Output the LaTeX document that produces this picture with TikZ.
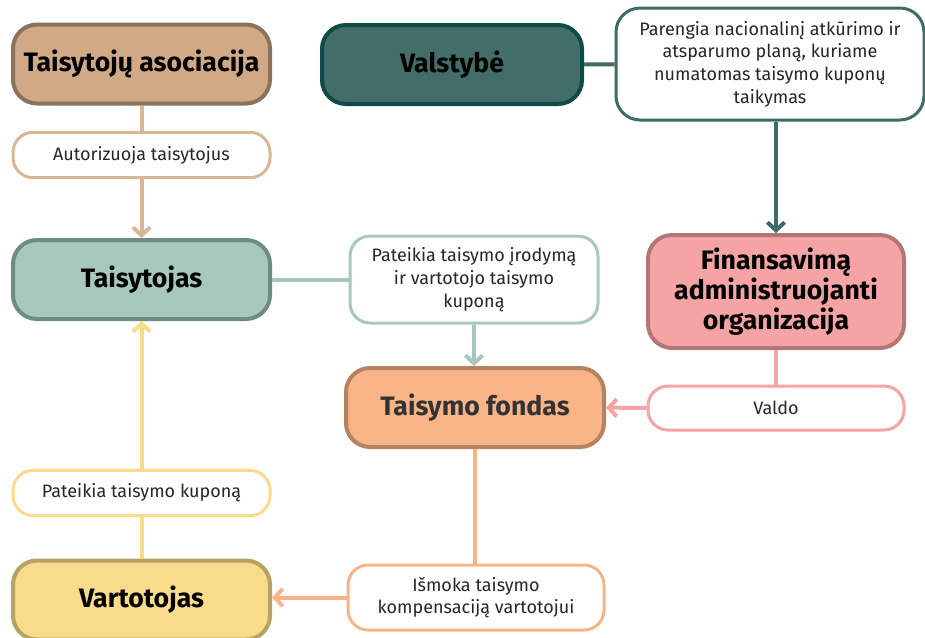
\documentclass[tikz,border=0pt]{standalone}
\usepackage{fontspec}
\setmainfont{Fira Sans}
\usetikzlibrary{arrows.meta,positioning}
\definecolor{tanfill}{HTML}{D0A987}
\definecolor{tanedge}{HTML}{8C7259}
\definecolor{tanline}{HTML}{D8B794}
\definecolor{greenfill}{HTML}{A7C9B9}
\definecolor{greenedge}{HTML}{6F8D7F}
\definecolor{tealfill}{HTML}{436D68}
\definecolor{tealedge}{HTML}{0F4B46}
\definecolor{tealline}{HTML}{3E6B66}
\definecolor{pinkfill}{HTML}{F5A3A4}
\definecolor{pinkedge}{HTML}{B27677}
\definecolor{orangefill}{HTML}{F8B487}
\definecolor{orangeedge}{HTML}{B6825F}
\definecolor{yellowfill}{HTML}{F8DC8B}
\definecolor{yellowedge}{HTML}{B8A263}
\tikzset{
  mainbox/.style = {draw, line width=3pt, rounded corners=18pt, align=center, inner sep=2pt,
                    font=\bfseries\fontsize{20}{22.5}\selectfont,
                    minimum width=192.75pt, minimum height=59.25pt},
  notebox/.style = {draw, fill=white, line width=2.25pt, rounded corners=15pt, align=center, inner sep=2pt,
                    font=\fontsize{13.5}{17}\selectfont, text=black!85,
                    minimum width=192.75pt, minimum height=34pt},
  link/.style    = {line width=3pt},
  arrow/.style   = {link, -{Straight Barb[length=6pt, width=13pt]}},
}

\begin{document}
\begin{tikzpicture}[x=0.75pt, y=-0.75pt]
    \useasboundingbox (0,0) rectangle (925,637);

    % Actors
    \node[mainbox, fill=tanfill, draw=tanedge] (asoc) at (141.5,64) {Taisytojų asociacija};
    \node[mainbox, fill=greenfill, draw=greenedge] (taisytojas) at (141.5,279.5) {Taisytojas};
    \node[mainbox, fill=yellowfill, draw=yellowedge] (vartotojas) at (141.5,600) {Vartotojas};
    \node[mainbox, fill=tealfill, draw=tealedge, minimum width=195pt] (valst) at (452,64.5) {Valstybė};
    \node[mainbox, fill=pinkfill, draw=pinkedge, minimum width=192pt, minimum height=84.75pt] (finans) at (776,291.5)
        {Finansavimą\\administruojanti\\organizacija};
    \node[mainbox, fill=orangefill, draw=orangeedge, text=black!80, minimum width=193.5pt] (fondas) at (475,407.5) {Taisymo fondas};

    % Actions
    \node[notebox, draw=tanline, below=19pt of asoc] (autor) {Autorizuoja taisytojus};
    \node[notebox, draw=tealline, minimum width=231pt, minimum height=84pt, rounded corners=18pt] (plan) at (770,64)
        {Parengia nacionalinį atkūrimo ir\\atsparumo planą, kuriame\\numatomas taisymo kuponų\\taikymas};
    \node[notebox, draw=greenfill, minimum width=186pt, minimum height=65.25pt] (irodym) at (474,279.5)
        {Pateikia taisymo įrodymą\\ir vartotojo taisymo\\kuponą};
    \node[notebox, draw=pinkfill, minimum width=192pt, minimum height=33pt] (valdo) at (776,408) {Valdo};
    \node[notebox, draw=orangefill, minimum width=192pt, minimum height=48.75pt] (ismoka) at (476,597.5)
        {Išmoka taisymo\\kompensaciją vartotojui};
    \node[notebox, draw=yellowfill, above=31pt of vartotojas] (kupona) {Pateikia taisymo kuponą};

    % Connectors
    \draw[link, tanline] (asoc) -- (autor);
    \draw[arrow, tanline] (autor) -- (taisytojas);
    \draw[link, tealline] (valst) -- (plan);
    \draw[arrow, tealline] (plan.south -| finans.north) -- (finans.north);
    \draw[link, greenfill] (taisytojas) -- (irodym);
    \draw[arrow, greenfill] (irodym.south) -- (irodym.south |- fondas.north);
    \draw[link, pinkfill] (finans) -- (valdo);
    \draw[arrow, pinkfill] (valdo) -- (fondas);
    \draw[link, orangefill] (fondas.south) -- (fondas.south |- ismoka.north);
    \draw[arrow, orangefill] (ismoka.west) -- (ismoka.west -| vartotojas.east);
    \draw[link, yellowfill] (vartotojas) -- (kupona);
    \draw[arrow, yellowfill] (kupona) -- (taisytojas);
\end{tikzpicture}
\end{document}
